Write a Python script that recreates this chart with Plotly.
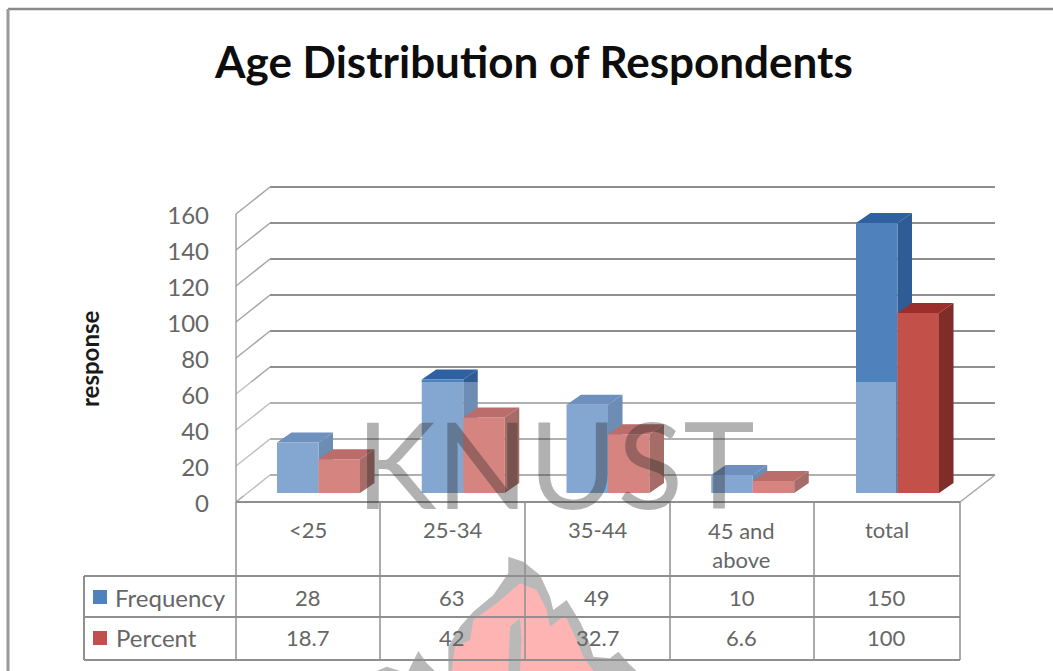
import plotly.graph_objects as go

# ---------- data ----------
categories = ["<25", "25-34", "35-44", "45 and<br>above", "total"]
frequency = [28, 63, 49, 10, 150]
percent = [18.7, 42, 32.7, 6.6, 100]
frequency_labels = ["28", "63", "49", "10", "150"]
percent_labels = ["18.7", "42", "32.7", "6.6", "100"]
y_ticks = [0, 20, 40, 60, 80, 100, 120, 140, 160]
title_text = "Age Distribution of Respondents"
y_title = "response"
watermark = "KNUST"

# ---------- layout constants (pixels of the 1053x671 page) ----------
W, H = 1053, 671
PX_PER_CAT = 144.75
CAT0_PX = 318.5
LABEL_SHIFT = -11 / PX_PER_CAT
PX_PER_UNIT = 1.8
BASE_PX = 493
AXIS0_PX = 502
TICK0_PX = 504
BACK0_PX = 475
DEPTH_X_PX, DEPTH_Y_PX = 14.5, 10
FONT = "Lato"
TEXT = "#666666"
GRID = "#8f8f8f"

def fx(px): return px / W
def fy(py): return 1 - py / H
x_range = [(0 - CAT0_PX) / PX_PER_CAT, (W - CAT0_PX) / PX_PER_CAT]
y_range = [(BASE_PX - H) / PX_PER_UNIT, BASE_PX / PX_PER_UNIT]
y3_range = [(TICK0_PX - H) / PX_PER_UNIT, TICK0_PX / PX_PER_UNIT]

BAR_W = 41.5 / PX_PER_CAT
DX, DY = DEPTH_X_PX / PX_PER_CAT, DEPTH_Y_PX / PX_PER_UNIT

def faces(values, left_off):
    tx, ty, sx, sy = [], [], [], []
    for i, v in enumerate(values):
        l, r = i + left_off, i + left_off + BAR_W
        tx += [l, r, r + DX, l + DX, l, None]
        ty += [v, v, v + DY, v + DY, v, None]
        sx += [r, r + DX, r + DX, r, r, None]
        sy += [0, DY, v + DY, v, 0, None]
    return tx, ty, sx, sy

def poly(x, y, color, yaxis):
    return go.Scatter(x=x, y=y, mode="lines", fill="toself", fillcolor=color,
                      line=dict(width=0, color=color), yaxis=yaxis,
                      hoverinfo="skip", showlegend=False)

fig = go.Figure()
# blue depth faces, behind everything
btx, bty, bsx, bsy = faces(frequency, -BAR_W)
fig.add_trace(poly(bsx, bsy, "#2f5c94", "y"))
fig.add_trace(poly(btx, bty, "#2e60a2", "y"))
# front faces
x_pos = list(range(len(categories)))
fig.add_trace(go.Bar(x=x_pos, y=frequency, name="Frequency", marker=dict(color="#4f81bd", line_width=0),
                     yaxis="y2", hoverinfo="skip", showlegend=False))
fig.add_trace(go.Bar(x=x_pos, y=percent, name="Percent", marker=dict(color="#c4504a", line_width=0),
                     yaxis="y2", hoverinfo="skip", showlegend=False))
# red depth faces
rtx, rty, rsx, rsy = faces(percent, 0)
fig.add_trace(poly(rsx, rsy, "#7f2d28", "y2"))
fig.add_trace(poly(rtx, rty, "#9c2f2b", "y2"))
# carrier for the value-axis labels
fig.add_trace(go.Scatter(x=[0], y=[0], mode="markers", marker=dict(opacity=0), yaxis="y3",
                         hoverinfo="skip", showlegend=False))

shapes = []
def line(x0, y0, x1, y1, color=GRID, width=2, layer="below"):
    shapes.append(dict(type="line", xref="paper", yref="paper", x0=fx(x0), y0=fy(y0), x1=fx(x1), y1=fy(y1),
                       line=dict(color=color, width=width), layer=layer))

# flame watermark (page pixels)
def flame_path(points):
    return "M" + " L".join(f"{fx(380 + a / 3):.4f},{fy(540 + b / 3):.4f}" for a, b in points) + " Z"
flame_outer = [(-10, 393), (20, 380), (60, 393), (85, 393), (115, 333), (140, 370), (165, 393), (205, 393), (205, 320),
               (240, 260), (280, 215), (340, 165), (385, 100), (385, 50), (430, 65), (480, 105), (510, 170),
               (520, 210), (560, 180), (600, 245), (625, 300), (640, 350), (690, 355), (715, 335), (750, 375),
               (770, 393)]
flame_inner = [(215, 393), (225, 320), (270, 300), (280, 240), (350, 190), (420, 130), (470, 150), (500, 210),
               (510, 260), (555, 225), (590, 300), (610, 350), (640, 393)]
flame_stripe = [(385, 393), (390, 260), (420, 235), (425, 300), (420, 393)]
for pts, col in [(flame_outer, "#b9b9b9"), (flame_inner, "#ffb4b4"), (flame_stripe, "#b9b9b9")]:
    shapes.append(dict(type="path", path=flame_path(pts), xref="paper", yref="paper",
                       fillcolor=col, line=dict(width=0), layer="below"))

# frame
line(8, 9, W, 9, "#8a8a8a", 2.5)
line(8, 9, 8, H, "#9a9a9a", 3)

# walls and gridlines, one per tick value
for v in y_ticks:
    front = AXIS0_PX - v * PX_PER_UNIT
    back = BACK0_PX - v * PX_PER_UNIT
    line(236, front, 270, back, "#a5a5a5", 1.5)
    line(270, back, 995, back)
line(236, AXIS0_PX - y_ticks[-1] * PX_PER_UNIT, 236, AXIS0_PX, "#a0a0a0", 1.5)
line(995, BACK0_PX, 960, AXIS0_PX, "#a5a5a5", 1.5)

# data table grid
cols = [236, 380, 525, 670, 814, 960]
for c in cols:
    line(c, 502, c, 660, "#8f8f8f", 1.5)
line(84, 576, 84, 660, "#8f8f8f", 2)
line(236, 502, 960, 502, "#8f8f8f", 2)
for r in (576, 617, 660):
    line(84, r, 960, r, "#8f8f8f", 2)

# legend keys
for y0, col in ((590, "#4f81bd"), (631, "#c0504d")):
    shapes.append(dict(type="rect", xref="paper", yref="paper", x0=fx(93), x1=fx(107), y0=fy(y0), y1=fy(y0 + 14),
                       fillcolor=col, line=dict(width=0), layer="below"))

# washed band over the lower part of the chart
shapes.append(dict(type="rect", xref="paper", yref="paper", x0=fx(237), x1=fx(896), y0=fy(382), y1=fy(496),
                   fillcolor="white", opacity=0.3, line=dict(width=0), layer="above"))

ann = []
def text(s, px, py, size, color=TEXT, xanchor="center", angle=0, xref="paper"):
    ann.append(dict(text=s, x=px if xref == "x" else fx(px), y=fy(py), xref=xref, yref="paper", showarrow=False,
                    xanchor=xanchor, yanchor="middle", textangle=angle,
                    font=dict(family=FONT, size=size, color=color)))

text(f"<b>{title_text}</b>", 533, 61, 44, "#0d0d0d")
text(f"<b>{y_title}</b>", 89, 359, 24, "#1a1a1a", angle=-90)
for i, c in enumerate(categories):
    py = 545 if "<br>" in c else 529
    text(c, i + LABEL_SHIFT, py, 22, TEXT, xref="x")
    text(frequency_labels[i], i + LABEL_SHIFT, 597, 22, TEXT, xref="x")
    text(percent_labels[i], i + LABEL_SHIFT, 637, 22, TEXT, xref="x")
text("Frequency", 113, 597, 24, TEXT, xanchor="left")
text("Percent", 114, 637, 24, TEXT, xanchor="left")
text(watermark, 555, 462, 121, "rgba(40,40,40,0.36)")

hidden = dict(visible=False, range=y_range, fixedrange=True)
fig.update_layout(
    width=W, height=H, margin=dict(l=0, r=0, t=0, b=0), paper_bgcolor="white", plot_bgcolor="rgba(0,0,0,0)",
    barmode="group", bargap=1 - 2 * BAR_W, bargroupgap=0, hovermode=False, showlegend=False,
    xaxis=dict(visible=False, range=x_range, fixedrange=True, domain=[0, 1]),
    yaxis=dict(domain=[0, 1], **hidden),
    yaxis2=dict(overlaying="y", **hidden),
    yaxis3=dict(overlaying="y", range=y3_range, fixedrange=True, tickvals=y_ticks, showgrid=False, zeroline=False,
                showline=False, ticks="", anchor="free", position=fx(209), side="left",
                tickfont=dict(family=FONT, size=24, color=TEXT)),
    shapes=shapes, annotations=ann,
)
fig.write_html("out.html", config=dict(displayModeBar=False), post_script="document.body.style.margin='0';")
